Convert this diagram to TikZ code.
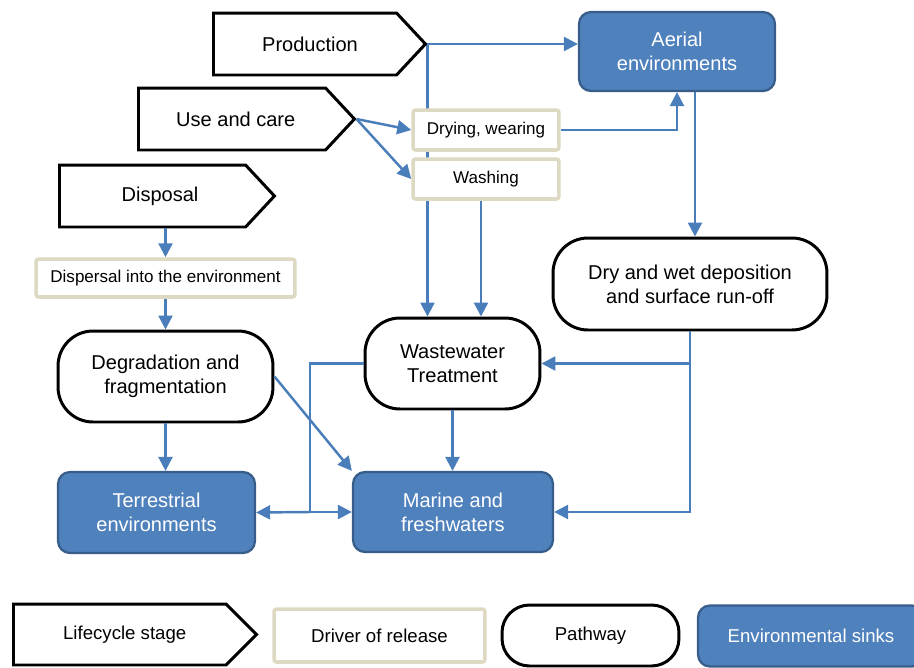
\documentclass[tikz,border=0pt]{standalone}
\usepackage{fontspec}
\setmainfont{Liberation Sans}
\usepackage{tikz}
\usetikzlibrary{arrows.meta, positioning, shapes.symbols, calc, backgrounds}
\definecolor{flowblue}{RGB}{74, 126, 187}
\definecolor{sinkblue}{RGB}{79, 129, 189}
\definecolor{sinkedge}{RGB}{56, 93, 138}
\definecolor{drivertan}{RGB}{221, 217, 195}
\newcommand{\mainsize}{\fontsize{11.4}{13.6}\selectfont}
\newcommand{\driversize}{\fontsize{9.7}{11.6}\selectfont}
\newcommand{\legendsize}{\fontsize{10.6}{12.6}\selectfont}

\begin{document}
\begin{tikzpicture}[
    x=0.02cm, y=-0.02cm,
    stage/.style={signal, signal to=east, signal pointer angle=94, draw=black, line width=1.7pt, fill=white, inner sep=0pt, minimum height=1.24cm, anchor=west, font=\mainsize},
    driver/.style={rectangle, rounded corners=1.5pt, draw=drivertan, line width=2pt, fill=white, inner sep=0pt, minimum height=0.8cm, font=\driversize},
    pathway/.style={rectangle, rounded corners=0.7cm, draw=black, line width=1.7pt, fill=white, align=center, inner sep=0pt, minimum height=1.82cm, font=\mainsize},
    sink/.style={rectangle, rounded corners=0.24cm, draw=sinkedge, fill=sinkblue, line width=1.3pt, text=white, align=center, inner sep=0pt, minimum height=1.6cm, font=\mainsize},
    flow/.style={line width=1.4pt, draw=flowblue},
    arrow/.style={flow, -{Triangle[length=2.8mm, width=2.8mm]}}
]
\useasboundingbox (0,0) rectangle (914,667);
\clip (0,0) rectangle (914,667);

% lifecycle stages
\node[stage, minimum width=4.24cm] (prod) at (212,44) {\hspace{0.2cm}Production};
\node[stage, minimum width=4.32cm] (usecare) at (137,119) {\hspace{0.15cm}Use and care};
\node[stage, minimum width=4.30cm] (disposal) at (58,196) {\hspace{0.3cm}Disposal};

% drivers of release
\node[driver, minimum width=2.92cm] (drywear) at (486,130) {Drying, wearing};
\node[driver, minimum width=2.92cm] (wash) at (486,179) {Washing};
\node[driver, minimum width=5.18cm, minimum height=0.76cm] (dispersal) at (165.5,278) {Dispersal into the environment};

% pathways
\node[pathway, minimum width=4.30cm] (degr) at (165.5,376.5) {Degradation and\\fragmentation};
\node[pathway, minimum width=3.50cm] (ww) at (452.5,363.5) {Wastewater\\Treatment};
\node[pathway, minimum width=5.48cm, minimum height=1.84cm] (depo) at (690,284) {Dry and wet deposition\\and surface run-off};

% sinks
\node[sink, minimum width=3.92cm, minimum height=1.58cm] (aerial) at (677,51.5) {Aerial\\environments};
\node[sink, minimum width=3.94cm, minimum height=1.62cm] (terr) at (156.5,512.5) {Terrestrial\\environments};
\node[sink, minimum width=4.00cm] (marine) at (453,512) {Marine and\\freshwaters};

% legend
\node[stage, minimum width=4.86cm, minimum height=1.22cm, signal pointer angle=90, font=\legendsize] (lstage) at (12,634.5) {\hspace{0.2cm}Lifecycle stage};
\node[driver, minimum width=4.22cm, minimum height=1.06cm, font=\legendsize] (ldriver) at (379.5,635.5) {Driver of release};
\node[pathway, minimum width=3.54cm, minimum height=1.22cm, rounded corners=0.55cm, font=\legendsize] (lpath) at (590.5,635.5) {Pathway};
\node[sink, minimum width=4.52cm, minimum height=1.22cm, font=\legendsize] (lsink) at (811,636) {Environmental sinks};

% connectors
\begin{scope}[on background layer]
\draw[arrow] (prod.east) -- (prod.east |- ww.north);
\end{scope}
\draw[arrow] (prod.east) -- (prod.east -| aerial.west);
\draw[arrow] (usecare.east) -- (drywear.west);
\draw[arrow] (usecare.east) -- (wash.west);
\draw[arrow] (drywear.east) -| (aerial.south);
\coordinate (aerout) at ([xshift=0.36cm]aerial.south);
\draw[arrow] (aerout) -- (aerout |- depo.north);
\coordinate (washout) at ([xshift=-0.1cm]wash.south);
\draw[arrow] (washout) -- (washout |- ww.north);
\draw[arrow] (depo.south) -- (depo.south |- marine.east) -- (marine.east);
\draw[arrow] (depo.south |- ww.east) -- (ww.east);
\draw[arrow] (ww.south) -- (ww.south |- marine.north);
\coordinate (split) at (310,512);
\draw[flow] (ww.west) -| (split);
\draw[arrow] (split) -- (terr.east);
\draw[arrow] (split) -- (marine.west);
\draw[arrow] (degr.east) -- (marine.north west);
\draw[arrow] (degr.south) -- (degr.south |- terr.north);
\draw[arrow] (disposal.south -| dispersal.north) -- (dispersal.north);
\draw[arrow] (dispersal.south) -- (degr.north);

\end{tikzpicture}
\end{document}
